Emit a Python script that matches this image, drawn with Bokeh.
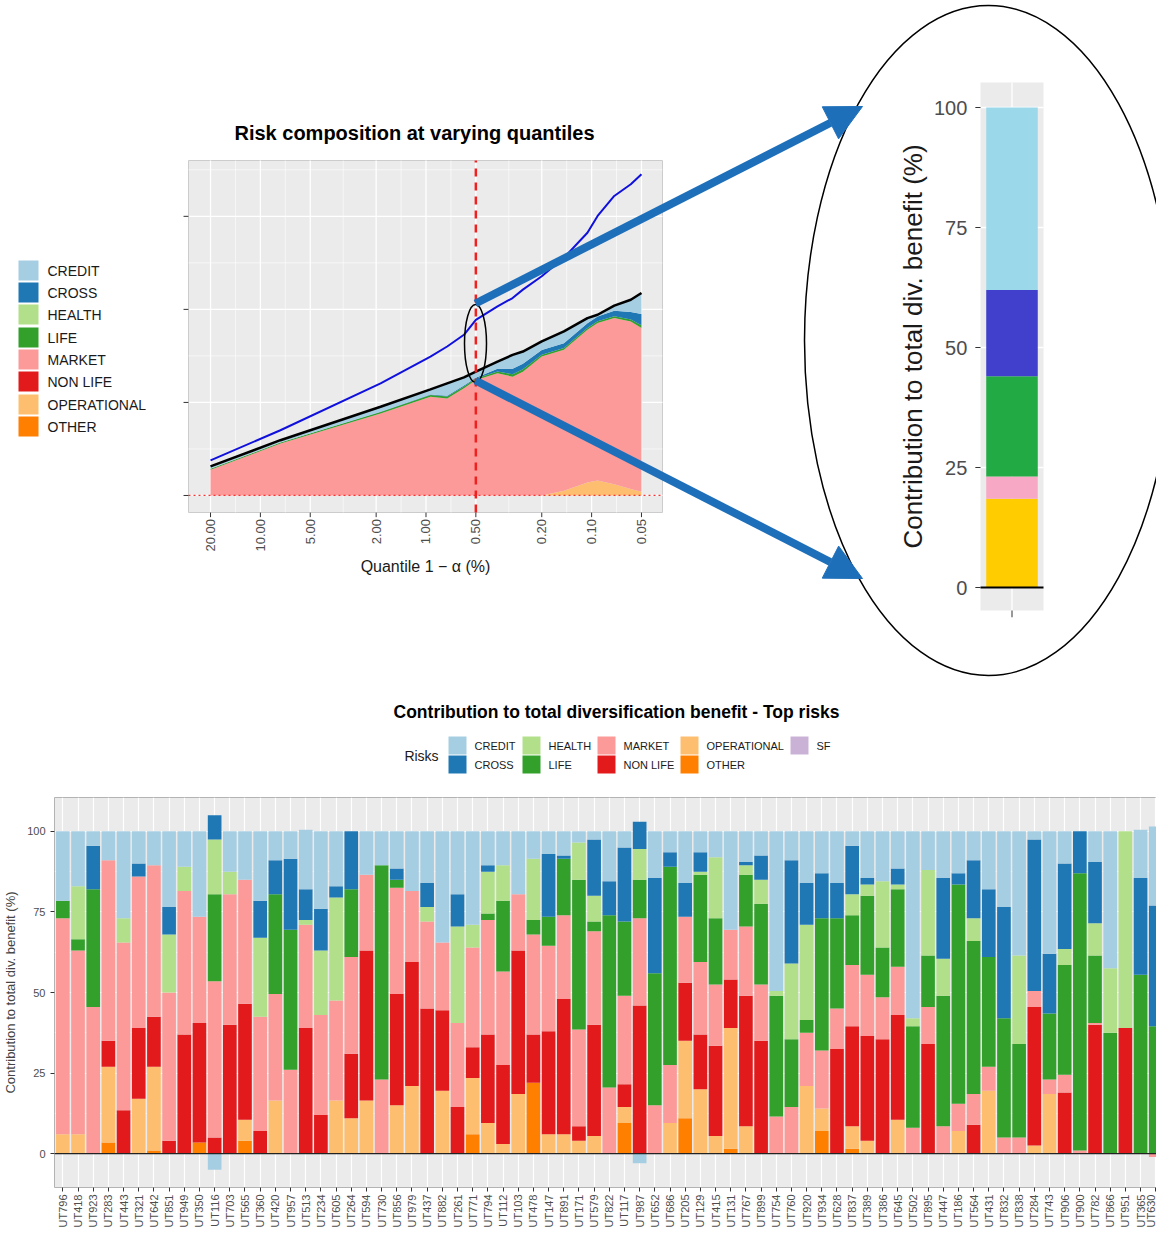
import numpy as np
from bokeh.plotting import figure
from bokeh.models import Range1d, FixedTicker, Arrow, NormalHead, Span
from bokeh.core.properties import value
from bokeh.embed import file_html
from bokeh.resources import INLINE

FONT = value("Liberation Sans")

# ---- colours (ggplot "Paired")
risk_colors = {"CREDIT": "#A6CEE3", "CROSS": "#1F78B4", "HEALTH": "#B2DF8A", "LIFE": "#33A02C",
               "MARKET": "#FB9A99", "NON LIFE": "#E31A1C", "OPERATIONAL": "#FDBF6F",
               "OTHER": "#FF7F00", "SF": "#CAB2D6"}

# ---- top: risk composition at varying quantiles
quantile_pct = [20, 7.57, 1.88, 0.94, 0.745, 0.59, 0.50, 0.37, 0.30, 0.26, 0.20, 0.147, 0.106, 0.092, 0.073, 0.058, 0.05]
area_oper = [0, 0, 0, 0, 0, 0, 0, 0, 0, 0, 0, 0.05, 0.14, 0.16, 0.12, 0.07, 0.04]
area_market = [0.277, 0.558, 0.881, 1.061, 1.043, 1.151, 1.241, 1.313, 1.277, 1.331, 1.493, 1.515, 1.641, 1.693, 1.786, 1.801, 1.759]
area_life = [0.01, 0.01, 0.015, 0.02, 0.02, 0.02, 0.015, 0.02, 0.025, 0.025, 0.02, 0.02, 0.02, 0.02, 0.02, 0.02, 0.03]
area_cross = [0, 0, 0.005, 0.005, 0.01, 0.01, 0.01, 0.03, 0.06, 0.06, 0.05, 0.05, 0.05, 0.05, 0.06, 0.08, 0.12]
area_credit = [0.026, 0.026, 0.052, 0.054, 0.132, 0.089, 0.065, 0.076, 0.149, 0.131, 0.092, 0.128, 0.055, 0.019, 0.054, 0.133, 0.227]
blue_line = [0.378, 0.701, 1.205, 1.493, 1.601, 1.727, 1.888, 2.032, 2.122, 2.212, 2.356, 2.554, 2.824, 3.004, 3.219, 3.345, 3.453]
q_ticks = [20, 10, 5, 2, 1, 0.5, 0.2, 0.1, 0.05]
q_tick_labels = ["20.00", "10.00", "5.00", "2.00", "1.00", "0.50", "0.20", "0.10", "0.05"]
left_legend = ["CREDIT", "CROSS", "HEALTH", "LIFE", "MARKET", "NON LIFE", "OPERATIONAL", "OTHER"]

# ---- inset bar at 0.5%
inset_values = [18.5, 4.6, 20.9, 18, 38]
inset_colors = ["#FFCC00", "#F7A8C4", "#22AA44", "#4040CC", "#9AD8EA"]
inset_ticks = [0, 25, 50, 75, 100]

# ---- bottom: contribution per undertaking
units = ["UT796", "UT418", "UT923", "UT283", "UT443", "UT321", "UT642", "UT851", "UT949", "UT350",
         "UT116", "UT703", "UT565", "UT360", "UT420", "UT957", "UT513", "UT234", "UT605", "UT264",
         "UT594", "UT730", "UT856", "UT979", "UT437", "UT882", "UT261", "UT771", "UT794", "UT112",
         "UT103", "UT478", "UT147", "UT891", "UT171", "UT579", "UT822", "UT117", "UT987", "UT652",
         "UT686", "UT205", "UT129", "UT415", "UT131", "UT767", "UT899", "UT754", "UT760", "UT920",
         "UT934", "UT628", "UT837", "UT389", "UT386", "UT645", "UT502", "UT895", "UT447", "UT186",
         "UT564", "UT431", "UT832", "UT838", "UT284", "UT743", "UT906", "UT900", "UT782", "UT866",
         "UT951", "UT365", "UT630", "UT301"]
other = [0, 0, 0, 3.5, 0, 0, 1, 0, 0, 3.5,
         0, 0, 4, 0, 0, 0, 0, 0, 0, 0,
         0, 0, 0, 0, 0, 0, 0, 6, 0, 0,
         0, 22, 0, 0, 0, 0, 0, 9.5, 0, 0,
         0, 11, 0, 0, 1.5, 0, 0, 0, 0, 0,
         7, 0, 1.5, 0, 0, 0, 0, 0, 0, 0,
         0, 0, 0, 0, 0, 0, 0, 0, 0, 0,
         0, 0, 0, 0]
operational = [6, 6, 0, 23.5, 0, 17, 26, 0, 0, 0,
               0, 0, 6.5, 0, 16.5, 0, 0, 0, 16.5, 11,
               16.5, 0, 15, 21, 0, 19.5, 0, 17.5, 9.5, 3,
               18.5, 0, 6, 6, 4, 5.5, 0, 5, 0, 0,
               9.5, 24, 20, 5.5, 37.5, 8.5, 0, 0, 0, 21,
               7, 0, 7, 4, 0, 10.5, 0, 0, 0, 7,
               0, 19.5, 0, 0, 2.5, 18.5, 0, 0, 0, 0,
               0, 0, 0, 0]
non_life = [0, 0, 0, 8, 13.5, 22, 15.5, 4, 37, 37,
            5, 40, 36, 7, 0, 0, 39, 12, 0, 20,
            46.5, 0, 34.5, 38.5, 45, 25, 14.5, 9.5, 27.5, 24.5,
            44.5, 15, 32, 42, 4.5, 34.5, 0, 7, 46, 0,
            0, 18, 17, 28, 15, 40.5, 35, 0, 0, 0,
            0, 32.5, 31, 32.5, 35.5, 32.5, 0, 34, 0, 0,
            9, 0, 0, 0, 43, 0, 19, 0, 40, 0,
            39, 0, 0, 45]
market = [67, 57, 45.5, 56, 52, 47, 47, 46, 44.5, 33,
          48.5, 40.5, 38.5, 35.5, 33, 26, 32, 31, 31, 30,
          23.5, 23, 33, 22, 27, 21, 26, 31, 35.5, 29,
          17.5, 31, 26.5, 26, 30, 29, 20.5, 27.5, 27, 15,
          18, 20.5, 22.5, 19, 15.5, 21.5, 17.5, 11.5, 14.5, 16.5,
          18, 12.5, 19, 19, 13, 15, 8, 11.5, 8.5, 8.5,
          9.5, 7.5, 5, 5, 5, 4.5, 5.5, 1, 0.5, 0,
          0, 0, -1, -5]
life = [5.5, 3.5, 36.5, 0, 0, 0, 0, 0, 0, 0,
        27, 0, 0, 0, 31, 43.5, 0, 0, 0, 21,
        0, 66.5, 2.5, 0, 0, 0, 0, 0, 2, 22,
        0, 4.5, 9, 17.5, 46.5, 3, 53.5, 23, 12, 41,
        61.5, 0, 27, 20.5, 0, 16, 25, 37.5, 21, 4,
        41, 28, 15.5, 24.5, 15.5, 24, 31.5, 16, 40.5, 68,
        47.5, 34, 37, 29, 0, 20.5, 34, 86, 21, 37.5,
        0, 55.5, 39.5, 14]
health = [0, 16.5, 0, 0, 7.5, 0, 0, 18, 7.5, 0,
          17, 7, 0, 24.5, 0, 0, 1.5, 20, 32, 0,
          0, 0, 0, 0, 4.5, 0, 30, 7, 13, 11,
          0, 19, 0, 0, 11.5, 8, 0, 0, 9.5, 0,
          0, 0, 1, 19, 0, 3, 7.5, 1.5, 23.5, 29.5,
          0, 0, 6.5, 3.5, 20.5, 1.5, 2.5, 26.5, 11.5, 0,
          7, 0, 0, 27.5, 0, 0, 5, 0, 10, 20,
          61, 0, 0, 23]
cross = [0, 0, 13.5, 0, 0, 4, 0, 8.5, 0, 0,
         7.5, 0, 0, 11.5, 10.5, 22, 9.5, 13, 3.5, 18,
         0, 0, 3.5, 0, 7.5, 0, 10, 0, 2, 0,
         0, 0, 19.5, 1, 0, 17.5, 10.5, 23, 8.5, 29.5,
         4.5, 10.5, 6, 0, 0, 1, 7.5, 0, 32, 13,
         14, 11, 15, 2, 0, 5, 0, 0, 25, 3.5,
         18, 21, 34.5, 0, 47, 18.5, 26.5, 13, 19, 0,
         0, 30, 37.5, 13]
credit = [21.5, 17, 4.5, 9, 27, 10, 10.5, 23.5, 11, 26.5,
          -5, 12.5, 15, 21.5, 9, 8.5, 18.5, 24, 17, 0,
          13.5, 10.5, 11.5, 18.5, 16, 34.5, 19.5, 29, 10.5, 10.5,
          19.5, 8.5, 7, 7.5, 3.5, 2.5, 15.5, 5, -3, 14.5,
          6.5, 16, 6.5, 8, 30.5, 9.5, 7.5, 49.5, 9, 16,
          13, 16, 4.5, 14.5, 15.5, 11.5, 58, 12, 14.5, 13,
          9, 18, 23.5, 38.5, 2.5, 38, 10, 0, 9.5, 42.5,
          0, 15, 24.5, 10.5]
bottom_legend = [["CREDIT", "CROSS"], ["HEALTH", "LIFE"], ["MARKET", "NON LIFE"], ["OPERATIONAL", "OTHER"], ["SF"]]


def lin_range(px0, px1, d0, d1, lo, hi):
    s = (d1 - d0) / (px1 - px0)
    return Range1d(d0 + (lo - px0) * s, d0 + (hi - px0) * s)


# ================= top canvas (page pixel coordinates)
W, H = 1156, 777
p1 = figure(width=W, height=H, x_range=Range1d(0, W), y_range=Range1d(H, 0),
            output_backend="svg", toolbar_location=None, min_border=0)
p1.axis.visible = False
p1.grid.visible = False
p1.outline_line_color = None

QX0, QX1, QY0, QY1 = -1.434, 1.428, -0.183, 3.60
p1.extra_x_ranges = {"qx": lin_range(188, 662, QX0, QX1, 0, W),
                     "ix": lin_range(980, 1043, 0.45, 1.55, 0, W)}
p1.extra_y_ranges = {"qy": lin_range(512, 160, QY0, QY1, H, 0),
                     "iy": lin_range(587, 107, 0, 100, H, 0)}
Q = dict(x_range_name="qx", y_range_name="qy")
I = dict(x_range_name="ix", y_range_name="iy")

# area chart panel
p1.quad(left=[QX0], right=[QX1], bottom=[QY0], top=[QY1], fill_color="#EBEBEB", line_color="#cccccc", **Q)
xt = -np.log10(np.array(q_ticks, dtype=float))
xm = (xt[:-1] + xt[1:]) / 2
p1.segment(x0=xm, x1=xm, y0=QY0, y1=QY1, line_color="white", line_width=0.6, **Q)
p1.segment(x0=xt, x1=xt, y0=QY0, y1=QY1, line_color="white", line_width=1.3, **Q)
yt = np.array([0, 1, 2, 3], dtype=float)
ym = np.array([0.5, 1.5, 2.5, 3.5])
p1.segment(x0=QX0, x1=QX1, y0=ym, y1=ym, line_color="white", line_width=0.6, **Q)
p1.segment(x0=QX0, x1=QX1, y0=yt, y1=yt, line_color="white", line_width=1.3, **Q)

qx = -np.log10(np.array(quantile_pct))
base = np.zeros(len(qx))
for vals, name in [(area_oper, "OPERATIONAL"), (area_market, "MARKET"), (area_life, "LIFE"),
                   (area_cross, "CROSS"), (area_credit, "CREDIT")]:
    top = base + np.array(vals)
    p1.varea(x=qx, y1=base, y2=top, fill_color=risk_colors[name], **Q)
    base = top
p1.line(qx, base, line_color="black", line_width=2.5, **Q)
p1.line(qx, blue_line, line_color="#1010DD", line_width=2, **Q)
p1.segment(x0=[QX0], x1=[QX1], y0=[0], y1=[0], line_color="#FF3030", line_width=1.2, line_dash="2 3", **Q)
p1.segment(x0=[-np.log10(0.5)], x1=[-np.log10(0.5)], y0=[QY0], y1=[QY1], line_color="#EE2020",
           line_width=2.5, line_dash="8 6", **Q)
# ticks
p1.segment(x0=xt, x1=xt, y0=QY0, y1=QY0 - 0.05, line_color="#333333", **Q)
p1.segment(x0=QX0 - 0.03, x1=QX0, y0=yt, y1=yt, line_color="#333333", **Q)
p1.text(x=xt, y=QY0 - 0.07, text=q_tick_labels, angle=np.pi / 2, text_align="right", text_baseline="middle",
        text_font=FONT, text_font_size=value("13px"), text_color="#4d4d4d", **Q)
p1.text(x=[414], y=[132], text=["Risk composition at varying quantiles"], text_align="center",
        text_baseline="middle", text_font=FONT, text_font_style="bold", text_font_size=value("20px"))
p1.text(x=[425], y=[566], text=["Quantile 1 \u2212 \u03b1 (%)"], text_align="center", text_baseline="middle",
        text_font=FONT, text_font_size=value("16px"), text_color="#1a1a1a")
p1.ellipse(x=[475], y=[343], width=[22], height=[78], width_units="screen", height_units="screen",
           fill_color=None, line_color="black", line_width=1.5)

# left legend
ly = np.array([270, 292, 314, 337, 359, 381, 404, 426])
p1.quad(left=18, right=38, top=ly - 10, bottom=ly + 10, fill_color=[risk_colors[n] for n in left_legend], line_color=None)
p1.text(x=47, y=ly, text=left_legend, text_baseline="middle", text_font=FONT,
        text_font_size=value("14px"), text_color="#1a1a1a")

# big ellipse + inset bar
p1.ellipse(x=[988], y=[340], width=[368], height=[670], width_units="screen", height_units="screen",
           fill_color=None, line_color="black", line_width=1.5)
p1.quad(left=[0.45], right=[1.55], bottom=[-4.8], top=[105.2], fill_color="#EBEBEB", line_color=None, **I)
p1.segment(x0=0.45, x1=1.55, y0=inset_ticks, y1=inset_ticks, line_color="white", line_width=1.3, **I)
p1.segment(x0=[1], x1=[1], y0=[-4.8], y1=[105.2], line_color="white", line_width=1.3, **I)
cum = np.cumsum([0] + inset_values)
p1.quad(left=0.55, right=1.45, bottom=cum[:-1], top=cum[1:], fill_color=inset_colors, line_color=None, **I)
p1.segment(x0=[0.45], x1=[1.55], y0=[0], y1=[0], line_color="black", line_width=2, **I)
p1.segment(x0=0.36, x1=0.45, y0=inset_ticks, y1=inset_ticks, line_color="#333333", **I)
p1.segment(x0=[1], x1=[1], y0=[-4.8], y1=[-6.2], line_color="#333333", **I)
p1.text(x=0.22, y=inset_ticks, text=[str(t) for t in inset_ticks], text_align="right", text_baseline="middle",
        text_font=FONT, text_font_size=value("20px"), text_color="#4d4d4d", **I)
p1.text(x=[912], y=[346], text=["Contribution to total div. benefit (%)"], angle=np.pi / 2, text_align="center",
        text_baseline="middle", text_font=FONT, text_font_size=value("26px"), text_color="#1a1a1a")

for ys, ye in [(303, 106), (380, 578)]:
    p1.add_layout(Arrow(end=NormalHead(size=36, fill_color="#1E6FBA", line_color="#1E6FBA"),
                        x_start=475, y_start=ys, x_end=862, y_end=ye, line_color="#1E6FBA", line_width=8))

# bottom chart title + legend
p1.text(x=[616], y=[711], text=["Contribution to total diversification benefit - Top risks"], text_align="center",
        text_baseline="middle", text_font=FONT, text_font_style="bold", text_font_size=value("17.5px"))
p1.text(x=[421], y=[755], text=["Risks"], text_align="center", text_baseline="middle", text_font=FONT,
        text_font_size=value("14px"), text_color="#1a1a1a")
for cx, names in zip([448, 522, 597, 680, 790], bottom_legend):
    for j, n in enumerate(names):
        cy = 745 + 19 * j
        p1.quad(left=[cx], right=[cx + 18], top=[cy - 9], bottom=[cy + 9], fill_color=risk_colors[n], line_color=None)
        p1.text(x=[cx + 26], y=[cy], text=[n], text_baseline="middle", text_font=FONT,
                text_font_size=value("11px"), text_color="#1a1a1a")

# ================= bottom chart
p2 = figure(width=W, height=458, x_range=Range1d(-0.55, 72.05), y_range=Range1d(-10.5, 110.5),
            output_backend="svg", toolbar_location=None,
            min_border_left=53, min_border_right=0, min_border_top=20, min_border_bottom=48)
p2.background_fill_color = "#EBEBEB"
p2.outline_line_color = "#b3b3b3"
idx = np.arange(len(units))
pos = np.zeros(len(units))
neg = np.zeros(len(units))
for vals, name in [(other, "OTHER"), (operational, "OPERATIONAL"), (non_life, "NON LIFE"), (market, "MARKET"),
                   (life, "LIFE"), (health, "HEALTH"), (cross, "CROSS"), (credit, "CREDIT")]:
    v = np.array(vals, dtype=float)
    bot = np.where(v >= 0, pos, neg)
    top = bot + v
    pos = np.where(v >= 0, top, pos)
    neg = np.where(v < 0, top, neg)
    p2.vbar(x=idx, bottom=bot, top=top, width=0.9, fill_color=risk_colors[name], line_color=None)
p2.add_layout(Span(location=0, dimension="width", line_color="#222222", line_width=1.2))

p2.xaxis.ticker = FixedTicker(ticks=list(idx))
p2.xaxis.major_label_overrides = {int(i): u for i, u in zip(idx, units)}
p2.xaxis.major_label_orientation = np.pi / 2
p2.yaxis.ticker = FixedTicker(ticks=[0, 25, 50, 75, 100], minor_ticks=[-12.5, 12.5, 37.5, 62.5, 87.5, 112.5])
p2.yaxis.axis_label = "Contribution to total div. benefit (%)"
p2.yaxis.axis_label_text_font_style = "normal"
p2.yaxis.axis_label_text_font_size = "13px"
p2.yaxis.axis_label_standoff = 6
for ax in [p2.xaxis, p2.yaxis]:
    ax.axis_line_color = None
    ax.major_tick_in = 0
    ax.major_tick_out = 4
    ax.major_tick_line_color = "#333333"
    ax.minor_tick_line_color = None
    ax.major_label_text_font_size = "11px"
    ax.major_label_text_color = "#4d4d4d"
    ax.major_label_text_font = "Liberation Sans"
    ax.axis_label_text_font = "Liberation Sans"
p2.xaxis.major_label_standoff = 3
p2.grid.grid_line_color = "white"
p2.grid.grid_line_width = 1.2
p2.ygrid.minor_grid_line_color = "white"
p2.ygrid.minor_grid_line_width = 0.5

open("out.html", "w").write(file_html([p1, p2], INLINE))
